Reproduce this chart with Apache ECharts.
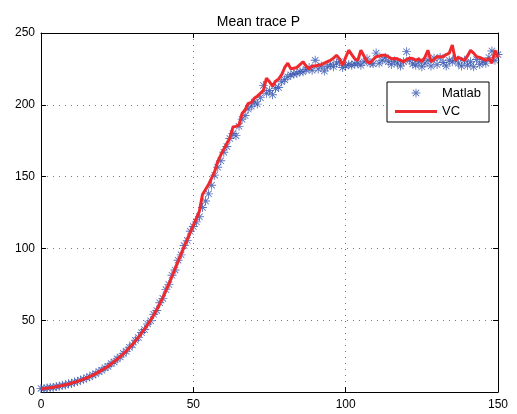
<!DOCTYPE html>
<html>
<head>
<meta charset="utf-8">
<script src="https://cdn.jsdelivr.net/npm/echarts@6/dist/echarts.min.js"></script>
<style>
  html, body { margin: 0; padding: 0; background: #fff; }
  #chart { width: 517px; height: 414px; }
</style>
</head>
<body>
<div id="chart"></div>
<script>
// x runs 0..150, one sample per step
const xTicks = [0, 50, 100, 150];
const yTicks = [0, 50, 100, 150, 200, 250];

// Matlab result (blue asterisks)
const matlab = [
  2.5, 2.3, 2.8, 3.1, 3.2, 3.9, 4.0, 4.7, 4.9, 5.7,
  6.0, 6.9, 7.3, 8.3, 8.8, 10.0, 10.6, 11.9, 12.7, 14.2,
  15.1, 16.9, 17.8, 19.8, 20.9, 23.1, 24.4, 26.9, 28.3, 31.2,
  32.8, 36.0, 37.9, 41.4, 43.5, 47.4, 49.6, 54.1, 56.8, 62.1,
  65.2, 71.3, 74.8, 81.3, 85.0, 91.8, 95.5, 102.0, 105.6, 111.9,
  115.2, 118.5, 122.0, 128.5, 133.0, 138.0, 144.0, 151.0, 156.5, 161.0,
  167.0, 171.0, 176.5, 180.0, 178.5, 185.0, 190.0, 192.5, 197.0, 199.0,
  202.0, 200.5, 205.0, 213.5, 208.0, 210.0, 207.0, 211.5, 212.0, 216.0,
  217.5, 219.5, 221.0, 221.5, 222.0, 223.0, 223.0, 224.5, 226.0, 224.0,
  231.0, 225.0, 227.0, 223.5, 226.5, 228.0, 226.5, 229.0, 230.0, 226.0,
  227.0, 228.0, 227.5, 228.5, 229.0, 227.5, 230.0, 232.0, 229.0, 228.5,
  236.0, 229.0, 231.0, 233.0, 230.0, 228.0, 230.5, 229.0, 227.0, 230.0,
  237.0, 231.0, 228.5, 227.5, 230.0, 226.5, 229.0, 231.0, 227.0, 232.5,
  228.0, 233.0, 229.5, 227.0, 231.0, 230.0, 232.0, 229.0, 227.0, 231.0,
  227.5, 230.0, 226.5, 231.5, 228.0, 230.0, 229.0, 233.0, 237.5, 231.0,
  235.0
];

// VC result (red line)
const vc = [
  2.2, 2.4, 2.7, 3.0, 3.3, 3.7, 4.1, 4.5, 5.0, 5.5,
  6.1, 6.7, 7.4, 8.1, 8.9, 9.8, 10.7, 11.7, 12.8, 14.0,
  15.3, 16.6, 18.0, 19.5, 21.1, 22.8, 24.6, 26.5, 28.6, 30.8,
  33.1, 35.6, 38.2, 41.0, 43.9, 46.9, 50.1, 53.6, 57.4, 61.5,
  65.9, 70.6, 75.5, 80.6, 85.8, 91.0, 96.2, 101.3, 106.3, 111.2,
  116.0, 120.9, 126.0, 137.5, 141.0, 144.5, 149.0, 153.5, 160.5, 165.0,
  169.0, 173.0, 177.0, 184.5, 185.0, 186.0, 194.0, 196.5, 201.0, 201.5,
  204.5, 206.0, 208.0, 210.0, 218.5, 216.0, 213.0, 216.5, 218.0, 221.0,
  226.0, 229.0, 225.0, 225.5, 226.0, 228.0, 230.0, 227.0, 225.0, 227.0,
  227.0, 227.5, 228.0, 229.0, 230.0, 231.0, 232.5, 234.5, 232.0, 227.5,
  233.0, 238.0, 235.0, 232.0, 231.0, 238.0, 234.0, 230.0, 229.0, 231.5,
  233.5, 234.0, 234.5, 234.5, 233.5, 232.0, 232.3, 232.0, 231.0, 230.0,
  231.5, 232.5, 232.3, 231.0, 232.0, 230.0, 233.0, 238.0, 230.0, 231.5,
  233.5, 233.5, 233.5, 235.0, 236.0, 241.6, 231.0, 233.0, 232.0, 231.0,
  234.0, 238.0, 236.0, 233.5, 233.0, 232.0, 231.0, 232.3, 229.0, 238.0,
  233.0
];

// asterisk marker (four thin bars)
const asteriskPath = 'M9 0L11 0L11 20L9 20Z M0 9L20 9L20 11L0 11Z ' +
  'M2.2 3.6L3.6 2.2L17.8 16.4L16.4 17.8Z M16.4 2.2L17.8 3.6L3.6 17.8L2.2 16.4Z';
const asterisk = 'path://' + asteriskPath;
// legend copy padded with empty corners so it draws smaller
const asteriskLegend = 'path://M-6 -6L-6 -6L-6 -6Z M26 26L26 26L26 26Z ' + asteriskPath;
const lineLegend = 'path://M0 0L42 0L42 3L0 3Z';

const font = 'Liberation Sans, Arial, Helvetica, sans-serif';

const chart = echarts.init(document.getElementById('chart'));

function frameAxis(pos, isX) {
  return {
    type: 'value',
    position: pos,
    min: isX ? xTicks[0] : yTicks[0],
    max: isX ? xTicks[xTicks.length - 1] : yTicks[yTicks.length - 1],
    interval: 50,
    axisLine: { show: true, onZero: false, lineStyle: { color: '#000', width: 1 } },
    axisTick: { show: true, inside: true, length: 5, lineStyle: { color: '#000' } },
    axisLabel: { show: false },
    splitLine: { show: false }
  };
}

const bottomAxis = frameAxis('bottom', true);
bottomAxis.axisLabel = { show: true, color: '#000', fontSize: 12, fontFamily: font, margin: 7 };
bottomAxis.splitLine = { show: true, lineStyle: { color: '#777', type: [1, 5], width: 1 } };

const leftAxis = frameAxis('left', false);
leftAxis.axisLabel = { show: true, color: '#000', fontSize: 12, fontFamily: font, margin: 6 };
leftAxis.splitLine = { show: true, lineStyle: { color: '#777', type: [1, 5], width: 1 } };

chart.setOption({
  animation: false,
  backgroundColor: '#fff',
  title: {
    text: 'Mean trace P',
    left: 'center',
    top: 10,
    textStyle: { fontSize: 14, fontWeight: 'normal', color: '#000', fontFamily: font }
  },
  grid: { left: 41, right: 19, top: 33, bottom: 22 },
  legend: {
    orient: 'vertical',
    left: 387,
    top: 82,
    width: 86,
    padding: [4, 8, 4, 8],
    itemGap: 5,
    itemWidth: 42,
    itemHeight: 14,
    backgroundColor: '#fff',
    borderColor: '#000',
    borderWidth: 1,
    textStyle: { fontSize: 13, color: '#000', fontFamily: font },
    data: [
      { name: 'Matlab', icon: asteriskLegend },
      { name: 'VC', icon: lineLegend }
    ]
  },
  xAxis: [bottomAxis, frameAxis('top', true)],
  yAxis: [leftAxis, frameAxis('right', false)],
  series: [
    {
      name: 'Matlab',
      type: 'scatter',
      symbol: asterisk,
      symbolSize: 9,
      itemStyle: { color: '#3352ae' },
      data: matlab.map((v, i) => [i, v])
    },
    {
      name: 'VC',
      type: 'line',
      showSymbol: false,
      symbol: 'none',
      lineStyle: { color: '#ee2a2e', width: 3 },
      itemStyle: { color: '#ee2a2e' },
      data: vc.map((v, i) => [i, v])
    }
  ]
});
</script>
</body>
</html>
